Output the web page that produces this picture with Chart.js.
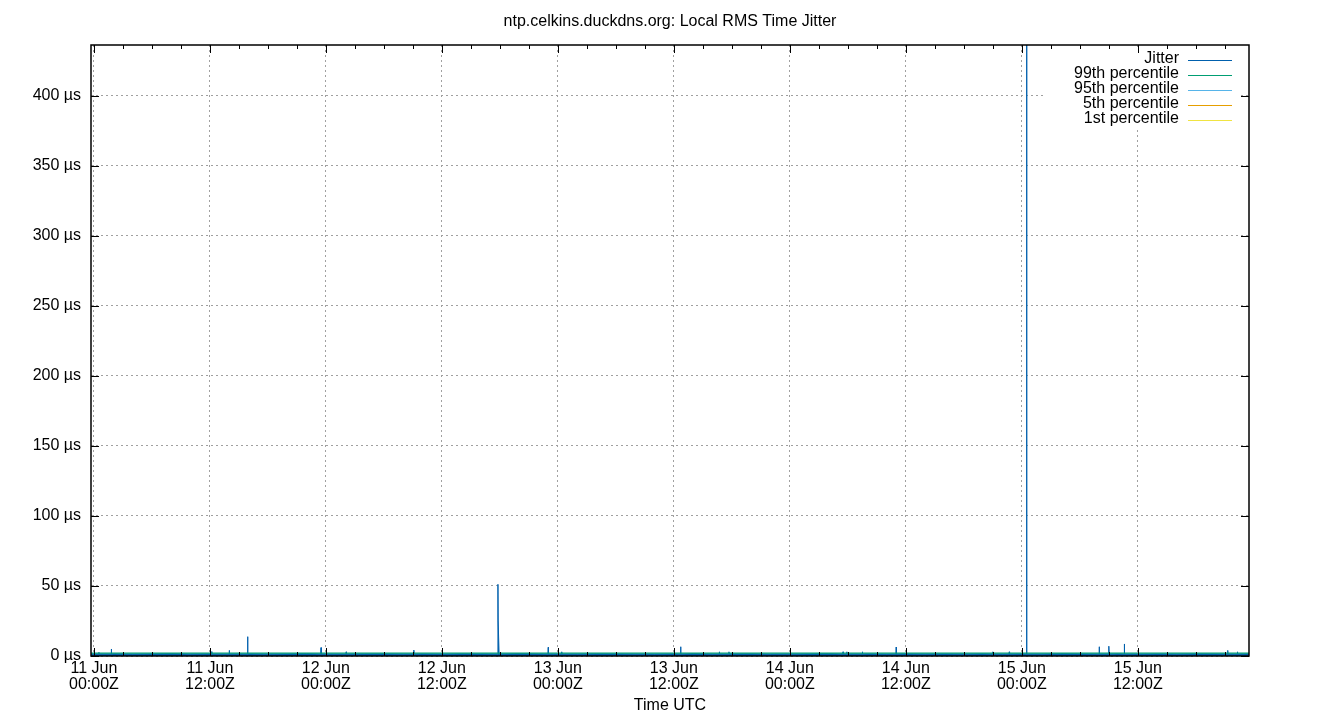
<!DOCTYPE html>
<html>
<head>
<meta charset="utf-8">
<title>Local RMS Time Jitter</title>
<script src="https://cdn.jsdelivr.net/npm/chart.js@4.4.1/dist/chart.umd.min.js"></script>
<style>
  html, body { margin: 0; padding: 0; background: #fff; }
  #wrap { width: 1340px; height: 720px; }
</style>
</head>
<body>
<div id="wrap"><canvas id="jitterChart"></canvas></div>
<script>
const chartTitle = "ntp.celkins.duckdns.org: Local RMS Time Jitter";
const xTitle = "Time UTC";

// x values are hours since 11 Jun 00:00Z
const xMin = -0.3;
const xMax = 119.5;
const tickHours = [0, 12, 24, 36, 48, 60, 72, 84, 96, 108];
const tickLabels = [
  ["11 Jun", "00:00Z"], ["11 Jun", "12:00Z"],
  ["12 Jun", "00:00Z"], ["12 Jun", "12:00Z"],
  ["13 Jun", "00:00Z"], ["13 Jun", "12:00Z"],
  ["14 Jun", "00:00Z"], ["14 Jun", "12:00Z"],
  ["15 Jun", "00:00Z"], ["15 Jun", "12:00Z"]
];
const yMax = 436.4;
const yTicks = [0, 50, 100, 150, 200, 250, 300, 350, 400];

// jitter (µs), normal level
const baseHours = [-0.3, 0, 2, 4, 6, 8, 10, 12, 14, 16, 18, 20, 22, 24, 26, 28, 30, 32, 34, 36, 38,
  40, 42, 44, 46, 48, 50, 52, 54, 56, 58, 60, 62, 64, 66, 68, 70, 72, 74, 76, 78, 80,
  82, 84, 86, 88, 90, 92, 94, 96, 98, 100, 102, 104, 106, 108, 110, 112, 114, 116, 118, 119.5];
const baseJitter = [1.4, 1.3, 1.5, 1.2, 1.4, 1.6, 1.3, 1.4, 1.2, 1.5, 1.3, 1.4, 1.6, 1.3, 1.2, 1.4,
  1.5, 1.3, 1.4, 1.2, 1.5, 1.4, 1.3, 1.6, 1.4, 1.2, 1.3, 1.5, 1.4, 1.3, 1.2, 1.4,
  1.6, 1.3, 1.4, 1.5, 1.2, 1.3, 1.4, 1.6, 1.3, 1.4, 1.2, 1.5, 1.3, 1.4, 1.3, 1.5,
  1.2, 1.4, 1.3, 1.6, 1.4, 1.3, 1.5, 1.2, 1.4, 1.3, 1.5, 1.4, 1.3, 1.4];

// jitter (µs), short spikes
const spikeHours = [
  0.49, 0.52, 0.55,
  1.77, 1.80, 1.83,
  12.17, 12.20, 12.23,
  13.97, 14.00, 14.03,
  15.87, 15.90, 15.93,
  23.47, 23.50, 23.53,
  26.07, 26.10, 26.13,
  33.07, 33.10, 33.13,
  41.78, 41.80, 41.82, 41.90, 41.92,
  46.97, 47.00, 47.03,
  48.37, 48.40, 48.43,
  60.67, 60.70, 60.73,
  64.67, 64.70, 64.73,
  65.67, 65.70, 65.73,
  77.47, 77.50, 77.53,
  77.87, 77.90, 77.93,
  79.47, 79.50, 79.53,
  82.97, 83.00, 83.03,
  92.97, 93.00, 93.03,
  94.67, 94.70, 94.73,
  96.49, 96.50, 96.51,
  103.97, 104.00, 104.03,
  104.97, 105.00, 105.03,
  106.57, 106.60, 106.63,
  117.27, 117.30, 117.33,
  118.27, 118.30, 118.33
];
const spikeJitter = [
  1.3, 2.6, 1.3,
  1.3, 5.0, 1.3,
  1.3, 3.2, 1.3,
  1.3, 4.0, 1.3,
  1.3, 13.8, 1.3,
  1.3, 6.0, 1.3,
  1.3, 3.0, 1.3,
  1.3, 4.2, 1.3,
  1.3, 51.2, 25.7, 25.7, 1.3,
  1.3, 6.2, 1.3,
  1.3, 3.0, 1.3,
  1.3, 6.6, 1.3,
  1.3, 3.0, 1.3,
  1.3, 3.0, 1.3,
  1.3, 3.0, 1.3,
  1.3, 3.0, 1.3,
  1.3, 3.0, 1.3,
  1.3, 6.4, 1.3,
  1.3, 3.0, 1.3,
  1.3, 3.0, 1.3,
  1.3, 470, 1.3,
  1.3, 6.6, 1.3,
  1.3, 7.0, 1.3,
  1.3, 8.6, 1.3,
  1.3, 4.0, 1.3,
  1.3, 3.0, 1.3
];

const pctLabels = ["99th percentile", "95th percentile", "5th percentile", "1st percentile"];
const pctValues = [2.1, 1.5, 0.5, 0.4];
const pctColors = ["#009e73", "#56b4e9", "#e69f00", "#f0e442"];
const jitterColor = "#0060ad";

const FONT = "'Liberation Sans', Arial, sans-serif";

const jitterPoints = baseHours.map((h, i) => ({ x: h, y: baseJitter[i] }))
  .concat(spikeHours.map((h, i) => ({ x: h, y: spikeJitter[i] })))
  .sort((a, b) => a.x - b.x);

const datasets = [{
  label: "Jitter",
  data: jitterPoints,
  borderColor: jitterColor,
  backgroundColor: jitterColor,
  borderWidth: 1,
  fill: "origin",
  pointRadius: 0,
  tension: 0,
  order: 1
}];
pctLabels.forEach((lab, i) => {
  datasets.push({
    label: lab,
    data: [{ x: xMin, y: pctValues[i] }, { x: xMax, y: pctValues[i] }],
    borderColor: pctColors[i],
    backgroundColor: pctColors[i],
    borderWidth: 1.2,
    pointRadius: 0,
    fill: false,
    order: i === 0 ? 0 : i + 1
  });
});

// border, inward ticks, gnuplot style key, title
const gnuplotBits = {
  id: "gnuplotBits",
  afterDatasetsDraw(chart) {
    const c = chart.ctx;
    const a = chart.chartArea;
    const xs = chart.scales.x, ys = chart.scales.y;
    c.save();

    // key
    const keyRight = a.right - 8;
    c.fillStyle = "#fff";
    c.fillRect(a.right - 204, a.top + 5, 196, 77);
    c.font = "16px " + FONT;
    c.textAlign = "right";
    c.textBaseline = "middle";
    chart.data.datasets.forEach((ds, i) => {
      const y = Math.round(a.top + 14 + i * 15);
      c.fillStyle = "#000";
      c.fillText(ds.label, keyRight - 62, y);
      c.strokeStyle = ds.borderColor;
      c.lineWidth = 1.2;
      c.beginPath();
      c.moveTo(keyRight - 53, y + 1.5);
      c.lineTo(keyRight - 9, y + 1.5);
      c.stroke();
    });

    // ticks
    c.strokeStyle = "#000";
    c.lineWidth = 1;
    c.beginPath();
    for (let h = 0; h <= xMax; h += 3) {
      const px = Math.round(xs.getPixelForValue(h)) + 0.5;
      const len = tickHours.includes(h) ? 8 : 4;
      c.moveTo(px, a.top); c.lineTo(px, a.top + len);
      c.moveTo(px, a.bottom); c.lineTo(px, a.bottom - len);
    }
    yTicks.forEach(v => {
      const py = Math.round(ys.getPixelForValue(v)) + 0.5;
      c.moveTo(a.left, py); c.lineTo(a.left + 8, py);
      c.moveTo(a.right, py); c.lineTo(a.right - 8, py);
    });
    c.stroke();

    // border
    c.lineWidth = 1.5;
    c.strokeRect(a.left, a.top, a.right - a.left, a.bottom - a.top);

    // title
    c.fillStyle = "#000";
    c.font = "16px " + FONT;
    c.textAlign = "center";
    c.textBaseline = "middle";
    c.fillText(chartTitle, (a.left + a.right) / 2, 22);
    c.restore();
  }
};

const gridStyle = { color: "#a0a0a0", lineWidth: 1, drawTicks: false };

new Chart(document.getElementById("jitterChart"), {
  type: "line",
  data: { datasets },
  plugins: [gnuplotBits],
  options: {
    responsive: true,
    maintainAspectRatio: false,
    animation: false,
    layout: { padding: { top: 45, right: 91, left: 0, bottom: 0 } },
    plugins: {
      legend: { display: false },
      title: { display: false },
      tooltip: { enabled: false }
    },
    scales: {
      x: {
        type: "linear",
        min: xMin,
        max: xMax,
        afterBuildTicks: s => { s.ticks = tickHours.map(v => ({ value: v })); },
        afterFit: s => { s.height = 64; },
        ticks: {
          autoSkip: false,
          maxRotation: 0,
          padding: 5,
          color: "#000",
          font: { family: FONT, size: 16, lineHeight: 1 },
          callback: v => tickLabels[tickHours.indexOf(v)]
        },
        grid: gridStyle,
        border: { display: false, dash: [2, 3] },
        title: {
          display: true,
          text: xTitle,
          color: "#000",
          font: { family: FONT, size: 16, lineHeight: 1 },
          padding: { top: 0, bottom: 6 }
        }
      },
      y: {
        type: "linear",
        min: 0,
        max: yMax,
        afterBuildTicks: s => { s.ticks = yTicks.map(v => ({ value: v })); },
        afterFit: s => { s.width = 91; },
        ticks: {
          padding: 10,
          color: "#000",
          font: { family: FONT, size: 16 },
          callback: v => v + " µs"
        },
        grid: gridStyle,
        border: { display: false, dash: [2, 3] }
      }
    }
  }
});
</script>
</body>
</html>
